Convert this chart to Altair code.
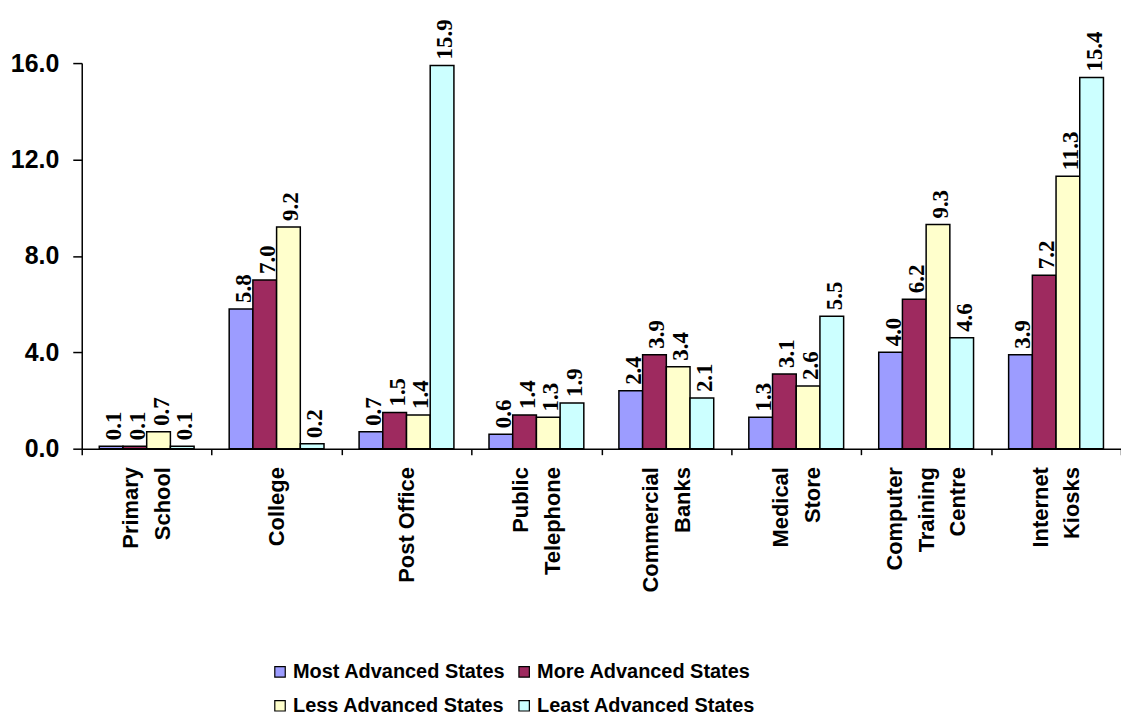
import altair as alt
import pandas as pd

categories = ["Primary\nSchool", "College", "Post Office", "Public\nTelephone",
              "Commercial\nBanks", "Medical\nStore", "Computer\nTraining\nCentre",
              "Internet\nKiosks"]
series = ["Most Advanced States", "More Advanced States",
          "Less Advanced States", "Least Advanced States"]
most_adv = [0.1, 5.8, 0.7, 0.6, 2.4, 1.3, 4.0, 3.9]
more_adv = [0.1, 7.0, 1.5, 1.4, 3.9, 3.1, 6.2, 7.2]
less_adv = [0.7, 9.2, 1.4, 1.3, 3.4, 2.6, 9.3, 11.3]
least_adv = [0.1, 0.2, 15.9, 1.9, 2.1, 5.5, 4.6, 15.4]
colors = ["#9C9CFF", "#9E2A5F", "#FFFFCC", "#CCFFFF"]
y_ticks = [0, 4, 8, 12, 16]

rows = []
for s, vals in zip(series, [most_adv, more_adv, less_adv, least_adv]):
    for c, v in zip(categories, vals):
        rows.append({"category": c, "series": s, "value": v})
df = pd.DataFrame(rows)

LINE_H = 32
label_offset = alt.ConditionalAxisNumber(
    condition=[
        {"test": "length(split(datum.value, '\\n')) == 3", "value": -LINE_H},
        {"test": "length(split(datum.value, '\\n')) == 2", "value": -LINE_H / 2},
    ],
    value=0,
)

x_enc = alt.X("category:N", sort=categories,
              scale=alt.Scale(paddingInner=0, paddingOuter=0),
              axis=alt.Axis(title=None, labelAngle=270, labelAlign="right",
                            labelBaseline="middle",
                            labelExpr="split(datum.label, '\\n')",
                            labelOffset=label_offset,
                            labelFont="Liberation Sans", labelFontWeight="bold",
                            labelFontSize=22, labelLineHeight=LINE_H, labelColor="black",
                            labelPadding=12, tickBand="extent", tickSize=6,
                            tickColor="black", domainColor="black", domainWidth=1.5,
                            tickWidth=1.5))
xo_enc = alt.XOffset("series:N", sort=series,
                     scale=alt.Scale(paddingInner=0, paddingOuter=0.74))
y_enc = alt.Y("value:Q",
              scale=alt.Scale(domain=[0, 16], nice=False, zero=True),
              axis=alt.Axis(title=None, values=y_ticks, format=".1f", grid=False,
                            labelFont="Liberation Sans", labelFontWeight="bold",
                            labelFontSize=25, labelColor="black", labelPadding=14,
                            tickSize=9, tickColor="black", tickWidth=1.5,
                            domainColor="black", domainWidth=1.5))

bars = alt.Chart(df).mark_bar(stroke="black", strokeWidth=1.5).encode(
    x=x_enc, xOffset=xo_enc, y=y_enc,
    color=alt.Color("series:N", sort=series,
                    scale=alt.Scale(domain=series, range=colors),
                    legend=alt.Legend(title=None, orient="none", legendX=189,
                                      legendY=601, columns=2, direction="horizontal",
                                      symbolType="square",
                                      symbolSize=110, symbolStrokeColor="black",
                                      symbolStrokeWidth=1.2,
                                      labelFont="Liberation Sans",
                                      labelFontWeight="bold", labelFontSize=20,
                                      labelColor="black", labelOffset=3,
                                      labelLimit=400, columnPadding=8,
                                      rowPadding=14)),
)

labels = alt.Chart(df).mark_text(angle=270, align="left", baseline="middle",
                                 dx=6, dy=3, font="Liberation Serif",
                                 fontWeight="bold", fontSize=23, color="black").encode(
    x=alt.X("category:N", sort=categories), xOffset=xo_enc,
    y=alt.Y("value:Q"),
    text=alt.Text("value:Q", format=".1f"),
)

chart = alt.layer(bars, labels).properties(
    width=1043, height=387,
    autosize=alt.AutoSizeParams(type="none"),
    padding={"left": 74, "top": 54, "right": 0, "bottom": 268},
).configure_view(stroke=None)

chart.save("out.html", embed_options={"renderer": "svg", "actions": False})
